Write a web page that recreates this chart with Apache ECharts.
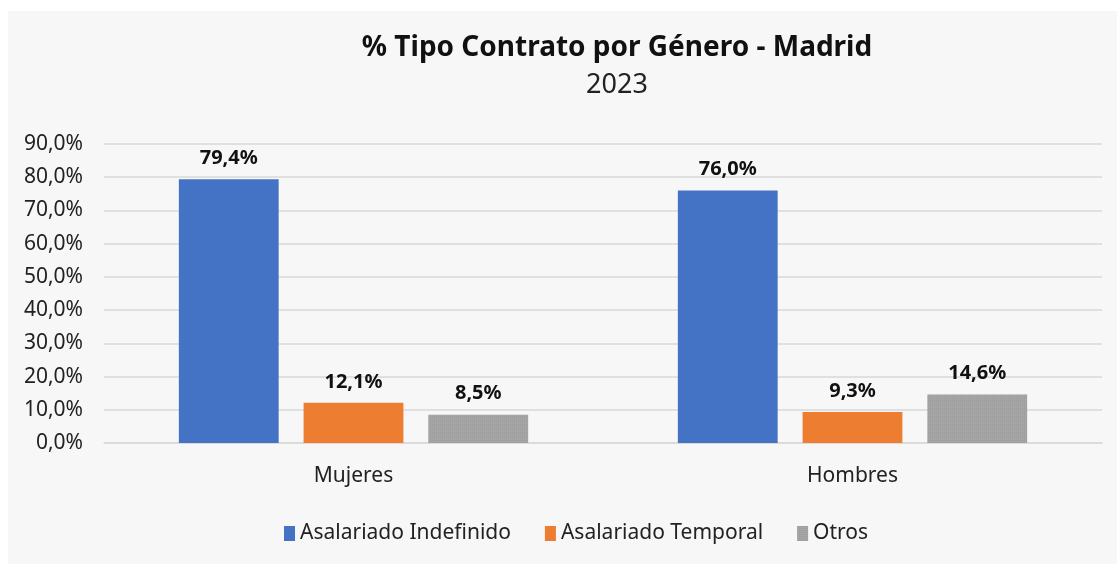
<!DOCTYPE html>
<html>
<head>
<meta charset="utf-8">
<script src="https://cdn.jsdelivr.net/npm/echarts@6/dist/echarts.min.js"></script>
<style>
html,body{margin:0;padding:0;background:#ffffff;}
#wrap{position:absolute;left:8px;top:11px;width:1109px;height:553px;background:#f7f7f7;}
#chart{position:absolute;left:0;top:0;width:1119px;height:564px;}
</style>
</head>
<body>
<div id="wrap"></div>
<div id="chart"></div>
<script>
var categories = ['Mujeres', 'Hombres'];
var seriesNames = ['Asalariado Indefinido', 'Asalariado Temporal', 'Otros'];
var indefinido = [79.4, 76.0];
var temporal = [12.1, 9.3];
var otros = [8.5, 14.6];
var colors = ['#4472C4', '#ED7D31', '#A5A5A5'];
var FONT = "'Noto Sans', sans-serif";

function fmt(v){ return v.toFixed(1).replace('.', ',') + '%'; }

var chart = echarts.init(document.getElementById('chart'), null, {renderer: 'canvas'});
var dataSets = [indefinido, temporal, otros];
var series = seriesNames.map(function(name, i){
  var s = {
    name: name,
    type: 'bar',
    data: dataSets[i],
    barGap: '25%',
    barCategoryGap: '30%',
    itemStyle: {color: colors[i]},
    label: {
      show: true,
      position: 'top',
      distance: 11,
      formatter: function(p){ return fmt(p.value); },
      fontFamily: FONT,
      fontWeight: 'bold',
      fontSize: 20,
      color: '#111111'
    }
  };
  if (i === 2) {
    s.itemStyle.decal = {
      symbol: 'rect',
      symbolSize: 1,
      dashArrayX: [1, 1],
      dashArrayY: [1, 1],
      color: 'rgba(140,140,140,0.35)'
    };
  }
  return s;
});

chart.setOption({
  backgroundColor: 'transparent',
  color: colors,
  title: {
    text: '% Tipo Contrato por Género - Madrid',
    subtext: '2023',
    left: 612,
    textAlign: 'center',
    top: 29,
    itemGap: 10,
    textStyle: {fontFamily: FONT, fontWeight: 'bold', fontSize: 28, color: '#111111'},
    subtextStyle: {fontFamily: FONT, fontSize: 27, color: '#222222'}
  },
  legend: {
    bottom: 15,
    left: 279,
    itemWidth: 11,
    itemHeight: 15,
    itemGap: 34,
    icon: 'rect',
    textStyle: {fontFamily: FONT, fontSize: 21, color: '#222222'},
    data: seriesNames
  },
  grid: {left: 104, right: 17, top: 144, bottom: 121, containLabel: false},
  xAxis: {
    type: 'category',
    data: categories,
    axisTick: {show: false},
    axisLine: {show: true, lineStyle: {color: '#d9d9d9', width: 1.5}},
    axisLabel: {fontFamily: FONT, fontSize: 21, color: '#222222', margin: 23}
  },
  yAxis: {
    type: 'value',
    min: 0,
    max: 90,
    interval: 10,
    axisLine: {show: false},
    axisTick: {show: false},
    splitLine: {lineStyle: {color: '#d9d9d9', width: 1.5}},
    axisLabel: {fontFamily: FONT, fontSize: 21, color: '#222222', margin: 21,
      formatter: function(v){ return fmt(v); }}
  },
  series: series
});
</script>
</body>
</html>
